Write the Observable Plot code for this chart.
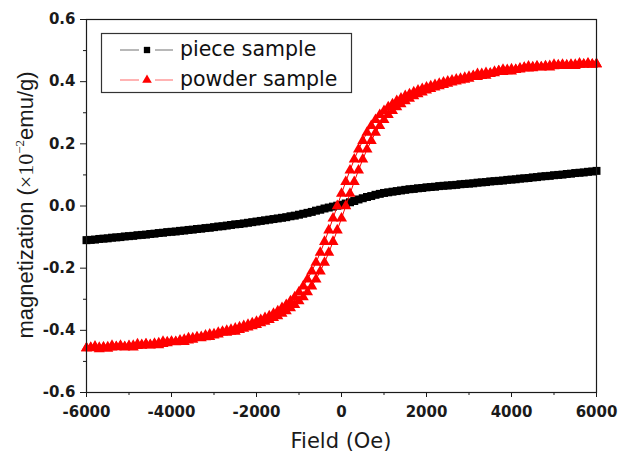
<!DOCTYPE html>
<html>
<head>
<meta charset="utf-8">
<script src="https://cdn.jsdelivr.net/npm/d3@7"></script>
<script src="https://cdn.jsdelivr.net/npm/@observablehq/plot@0.6"></script>
<style>
  html, body { margin: 0; padding: 0; background: #fff; }
  #chart svg { display: block; }
</style>
</head>
<body>
<div id="chart"></div>
<script>
// Applied field (Oe)
const fieldOe = [
  -6000,-5900,-5800,-5700,-5600,-5500,-5400,-5300,-5200,-5100,
  -5000,-4900,-4800,-4700,-4600,-4500,-4400,-4300,-4200,-4100,
  -4000,-3900,-3800,-3700,-3600,-3500,-3400,-3300,-3200,-3100,
  -3000,-2900,-2800,-2700,-2600,-2500,-2400,-2300,-2200,-2100,
  -2000,-1900,-1800,-1700,-1600,-1500,-1400,-1300,-1200,-1100,
  -1000,-900,-800,-700,-600,-500,-400,-300,-200,-100,
  0,100,200,300,400,500,600,700,800,900,
  1000,1100,1200,1300,1400,1500,1600,1700,1800,1900,
  2000,2100,2200,2300,2400,2500,2600,2700,2800,2900,
  3000,3100,3200,3300,3400,3500,3600,3700,3800,3900,
  4000,4100,4200,4300,4400,4500,4600,4700,4800,4900,
  5000,5100,5200,5300,5400,5500,5600,5700,5800,5900,
  6000
];

// piece sample magnetization (x10^-2 emu/g)
const pieceM = [
  -0.110,-0.109,-0.108,-0.106,-0.105,-0.104,-0.102,-0.101,-0.100,-0.098,
  -0.097,-0.096,-0.094,-0.093,-0.092,-0.090,-0.089,-0.087,-0.086,-0.084,
  -0.083,-0.082,-0.080,-0.079,-0.077,-0.076,-0.074,-0.073,-0.071,-0.070,
  -0.068,-0.066,-0.065,-0.063,-0.061,-0.059,-0.058,-0.056,-0.054,-0.052,
  -0.050,-0.048,-0.046,-0.044,-0.042,-0.040,-0.038,-0.036,-0.033,-0.031,
  -0.028,-0.025,-0.022,-0.019,-0.015,-0.012,-0.008,-0.005,-0.002,0.001,
  0.004,0.008,0.012,0.016,0.021,0.025,0.029,0.032,0.036,0.039,
  0.042,0.044,0.046,0.048,0.050,0.052,0.054,0.055,0.057,0.058,
  0.060,0.061,0.062,0.064,0.065,0.066,0.067,0.068,0.070,0.071,
  0.072,0.073,0.075,0.076,0.077,0.079,0.080,0.081,0.082,0.084,
  0.085,0.086,0.088,0.089,0.090,0.092,0.093,0.095,0.096,0.097,
  0.099,0.100,0.101,0.103,0.104,0.106,0.107,0.108,0.110,0.111,
  0.113
];

// powder sample, increasing-field branch
const powderUpM = [
  -0.457,-0.457,-0.452,-0.456,-0.456,-0.459,-0.455,-0.454,-0.449,-0.453,
  -0.452,-0.455,-0.450,-0.449,-0.444,-0.447,-0.445,-0.447,-0.443,-0.441,
  -0.437,-0.438,-0.436,-0.437,-0.432,-0.430,-0.424,-0.425,-0.422,-0.421,
  -0.416,-0.413,-0.406,-0.407,-0.404,-0.404,-0.398,-0.394,-0.390,-0.386,
  -0.382,-0.377,-0.372,-0.366,-0.360,-0.354,-0.346,-0.338,-0.328,-0.318,
  -0.306,-0.293,-0.277,-0.258,-0.236,-0.210,-0.182,-0.150,-0.115,-0.078,
  -0.040,0.000,0.040,0.078,0.115,0.150,0.182,0.210,0.236,0.258,
  0.277,0.293,0.306,0.318,0.328,0.338,0.346,0.354,0.360,0.366,
  0.372,0.377,0.382,0.386,0.390,0.394,0.398,0.401,0.404,0.407,
  0.410,0.417,0.416,0.419,0.420,0.425,0.428,0.434,0.432,0.434,
  0.433,0.438,0.440,0.445,0.443,0.444,0.449,0.447,0.448,0.446,
  0.450,0.451,0.455,0.453,0.453,0.451,0.455,0.455,0.459,0.456,
  0.457
];

// powder sample, decreasing-field branch
const powderDownM = [
  -0.457,-0.456,-0.456,-0.460,-0.455,-0.454,-0.449,-0.453,-0.452,-0.455,
  -0.450,-0.449,-0.444,-0.447,-0.445,-0.448,-0.443,-0.441,-0.436,-0.438,
  -0.436,-0.437,-0.432,-0.430,-0.425,-0.425,-0.422,-0.421,-0.416,-0.413,
  -0.412,-0.407,-0.404,-0.401,-0.398,-0.394,-0.390,-0.386,-0.382,-0.377,
  -0.372,-0.366,-0.360,-0.354,-0.346,-0.338,-0.328,-0.318,-0.306,-0.293,
  -0.277,-0.258,-0.236,-0.210,-0.182,-0.150,-0.115,-0.078,-0.040,0.000,
  0.040,0.078,0.115,0.150,0.182,0.210,0.236,0.258,0.277,0.293,
  0.306,0.318,0.328,0.338,0.346,0.354,0.360,0.366,0.372,0.377,
  0.382,0.386,0.390,0.394,0.398,0.401,0.404,0.407,0.410,0.413,
  0.416,0.419,0.425,0.425,0.428,0.427,0.432,0.434,0.439,0.438,
  0.440,0.438,0.443,0.444,0.449,0.447,0.448,0.446,0.450,0.451,
  0.455,0.453,0.453,0.451,0.455,0.455,0.459,0.456,0.457,0.455,
  0.457
];

const xTicks = [-6000,-4000,-2000,0,2000,4000,6000];
const xMinorTicks = [-5000,-3000,-1000,1000,3000,5000];
const yTicks = [-0.6,-0.4,-0.2,0.0,0.2,0.4,0.6];
const yMinorTicks = [-0.5,-0.3,-0.1,0.1,0.3,0.5];
const seriesNames = ["piece sample","powder sample"];

const piece = fieldOe.map((f, i) => ({f, m: pieceM[i]}));
const powder = [
  ...fieldOe.map((f, i) => ({f, m: powderUpM[i], branch: "up"})),
  ...fieldOe.map((f, i) => ({f, m: powderDownM[i], branch: "down"}))
];

const tickFont = "'DejaVu Sans', Verdana, sans-serif";
const W = 619, H = 456;
const chart = Plot.plot({
  width: W, height: H,
  marginLeft: 86, marginRight: 23, marginTop: 19, marginBottom: 64,
  style: {fontFamily: "'Liberation Sans', Arial, sans-serif", background: "white", color: "#1a1a1a", overflow: "visible"},
  x: {domain: [-6000, 6000], label: null},
  y: {domain: [-0.6, 0.6], label: null},
  marks: [
    Plot.axisX({ticks: xMinorTicks, tickSize: 3, text: null, label: null}),
    Plot.axisX({ticks: xTicks, tickSize: 5, tickPadding: 9, fontSize: 15, fontWeight: "bold", fontFamily: tickFont, label: null, tickFormat: d => String(d)}),
    Plot.axisY({ticks: yMinorTicks, tickSize: 3, text: null, label: null}),
    Plot.axisY({ticks: yTicks, tickSize: 6, tickPadding: 5, fontSize: 15, fontWeight: "bold", fontFamily: tickFont, label: null, tickFormat: d => d.toFixed(1)}),
    Plot.line(piece, {x: "f", y: "m", stroke: "#555", strokeWidth: 1}),
    Plot.dot(piece, {x: "f", y: "m", symbol: "square", r: 4.5, fill: "black", stroke: "none"}),
    Plot.line(powder, {x: "f", y: "m", z: "branch", stroke: "red", strokeWidth: 1}),
    Plot.dot(powder, {x: "f", y: "m", symbol: "triangle", r: 4.1, fill: "red", stroke: "none"}),
    Plot.frame({stroke: "#1a1a1a", strokeWidth: 1.2})
  ]
});
document.getElementById("chart").appendChild(chart);

const svg = d3.select(chart);
const font = "'Liberation Sans', Arial, sans-serif";

// axis titles
svg.append("text")
  .attr("x", 341).attr("y", 448)
  .attr("text-anchor", "middle")
  .attr("font-family", tickFont).attr("font-size", 21).attr("fill", "#1a1a1a")
  .text("Field (Oe)");

const yl = svg.append("text")
  .attr("transform", "translate(33,205) rotate(-90)")
  .attr("text-anchor", "middle")
  .attr("font-family", font).attr("font-size", 22).attr("fill", "#1a1a1a");
yl.append("tspan").text("magnetization (");
yl.append("tspan").attr("font-family", "'Liberation Serif', 'Times New Roman', serif").text("\u00d710");
yl.append("tspan").attr("dy", -9).attr("font-size", 13).attr("font-family", "'Liberation Serif', serif").text("\u22122");
yl.append("tspan").attr("dy", 9).text("emu/g)");

// legend
const lg = svg.append("g");
lg.append("rect").attr("x", 101.5).attr("y", 33.5).attr("width", 250).attr("height", 59)
  .attr("fill", "white").attr("stroke", "#333").attr("stroke-width", 1.2);
const items = [
  {name: seriesNames[0], line: "#888", fill: "black", sym: d3.symbolSquare, size: 40, y: 50, base: 56},
  {name: seriesNames[1], line: "#ff8080", fill: "red", sym: d3.symbolTriangle, size: 40, y: 80, base: 86}
];
for (const it of items) {
  lg.append("line").attr("x1", 120).attr("x2", 139).attr("y1", it.y).attr("y2", it.y).attr("stroke", it.line).attr("stroke-width", 1.2);
  lg.append("line").attr("x1", 155).attr("x2", 173).attr("y1", it.y).attr("y2", it.y).attr("stroke", it.line).attr("stroke-width", 1.2);
  lg.append("path").attr("d", d3.symbol(it.sym, it.size)()).attr("transform", `translate(147,${it.y})`).attr("fill", it.fill);
  lg.append("text").attr("x", 180).attr("y", it.base)
    .attr("text-anchor", "start")
    .attr("font-family", tickFont).attr("font-size", 20.5).attr("fill", "#111").text(it.name);
}
</script>
</body>
</html>
